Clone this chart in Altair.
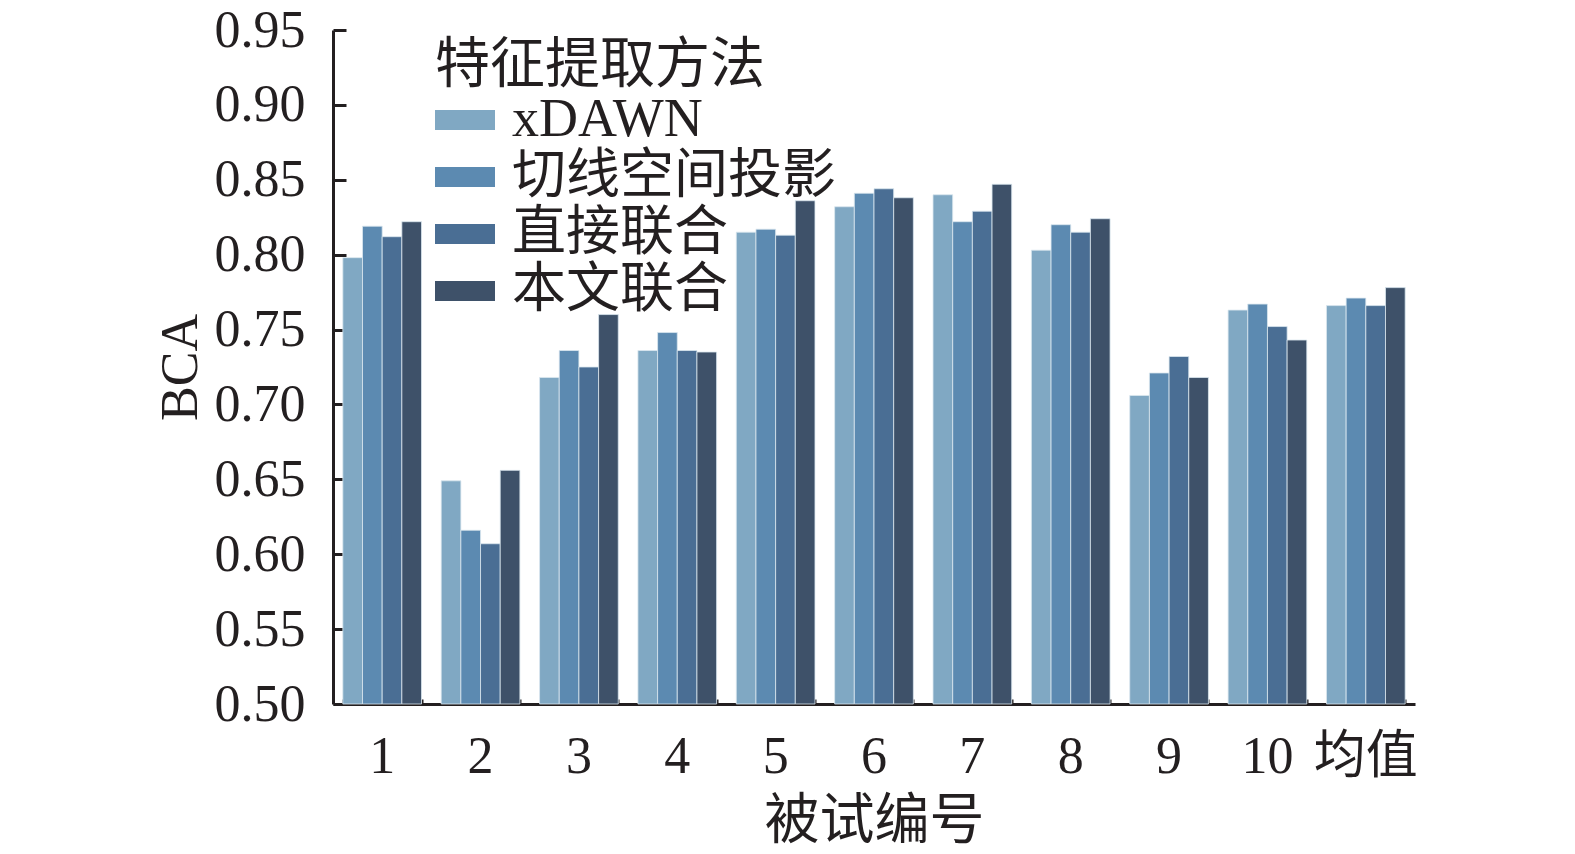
import altair as alt
import pandas as pd

subjects = ["1", "2", "3", "4", "5", "6", "7", "8", "9", "10", "均值"]
methods = ["xDAWN", "切线空间投影", "直接联合", "本文联合"]
colors = ["#80a8c3", "#5c8ab1", "#4a6e94", "#3e5169"]

xdawn = [0.798, 0.649, 0.718, 0.736, 0.815, 0.832, 0.840, 0.803, 0.706, 0.763, 0.766]
tangent = [0.819, 0.616, 0.736, 0.748, 0.817, 0.841, 0.822, 0.820, 0.721, 0.767, 0.771]
direct = [0.812, 0.607, 0.725, 0.736, 0.813, 0.844, 0.829, 0.815, 0.732, 0.752, 0.766]
ours = [0.822, 0.656, 0.760, 0.735, 0.836, 0.838, 0.847, 0.824, 0.718, 0.743, 0.778]

y_ticks = [0.50, 0.55, 0.60, 0.65, 0.70, 0.75, 0.80, 0.85, 0.90, 0.95]
y_base = 0.5

rows = []
for m, vals in zip(methods, [xdawn, tangent, direct, ours]):
    for s, v in zip(subjects, vals):
        rows.append({"subject": s, "method": m, "bca": v, "base": y_base})
df = pd.DataFrame(rows)

FONT = "Liberation Serif, Times New Roman, Noto Sans CJK SC"
INK = "#231f20"
FS = 52
FS_CJK = 55

xscale = alt.Scale(domain=subjects, paddingInner=0.2, paddingOuter=0.1)
yscale = alt.Scale(domain=[0.5, 0.95], nice=False, zero=False)

bars = alt.Chart(df).mark_bar(stroke="#dbe7ef", strokeWidth=0.8).encode(
    x=alt.X("subject:N", sort=subjects, scale=xscale,
            axis=alt.Axis(title="被试编号", labelAngle=0, ticks=False,
                          domainWidth=3, domainColor=INK,
                          labelFont=FONT, labelFontSize=FS, labelColor=INK,
                          labelPadding=27, titleFont=FONT, titleFontSize=FS_CJK,
                          titleFontWeight="normal", titleColor=INK,
                          titlePadding=12, orient="bottom", labelLimit=0)),
    xOffset=alt.XOffset("method:N", sort=methods,
                        scale=alt.Scale(domain=methods, paddingInner=0, paddingOuter=0)),
    y=alt.Y("bca:Q", scale=yscale,
            axis=alt.Axis(title="BCA", values=y_ticks, format=".2f", ticks=False,
                          domainWidth=3, domainColor=INK, grid=False,
                          labelFont=FONT, labelFontSize=FS, labelColor=INK,
                          labelPadding=28, titleFont=FONT, titleFontSize=FS,
                          titleFontWeight="normal", titleColor=INK,
                          titlePadding=7, orient="left")),
    y2=alt.Y2("base:Q"),
    color=alt.Color("method:N", sort=methods,
                    scale=alt.Scale(domain=methods, range=colors),
                    legend=alt.Legend(title="特征提取方法", orient="none",
                                      legendX=102, legendY=9,
                                      titleFont=FONT, titleFontSize=FS_CJK,
                                      titleFontWeight="normal", titleColor=INK,
                                      titlePadding=-4, titleLimit=0, labelLimit=0,
                                      labelFont=FONT, labelFontSize=54, labelColor=INK,
                                      labelOffset=17, rowPadding=-3,
                                      symbolType="M-1,-0.333H1V0.333H-1Z",
                                      symbolSize=3600, symbolStrokeWidth=0,
                                      symbolOpacity=1)),
)

ticks_layer = alt.Chart(df).mark_bar(opacity=0).encode(
    x=alt.X("subject:N", sort=subjects, scale=xscale,
            axis=alt.Axis(title=None, labels=False, domain=False, ticks=True,
                          tickSize=5, tickWidth=2, tickColor=INK, tickBand="extent",
                          offset=-5, orient="bottom", grid=False)),
    y=alt.Y("bca:Q", scale=yscale,
            axis=alt.Axis(title=None, labels=False, domain=False, ticks=True,
                          values=y_ticks, tickSize=13, tickWidth=3, tickColor=INK,
                          grid=False, offset=-13, orient="left")),
    y2=alt.Y2("base:Q"),
)

chart = alt.layer(bars, ticks_layer).resolve_axis(
    x="independent", y="independent"
).properties(
    width=1082, height=674,
    autosize=alt.AutoSizeParams(type="none"),
    padding={"left": 325, "top": 22, "right": 140, "bottom": 170},
    view=alt.ViewBackground(stroke="transparent", strokeWidth=0),
).configure_view(stroke="transparent", strokeWidth=0).configure(background="white")

chart.save("out.html", embed_options={"renderer": "svg", "actions": False})
